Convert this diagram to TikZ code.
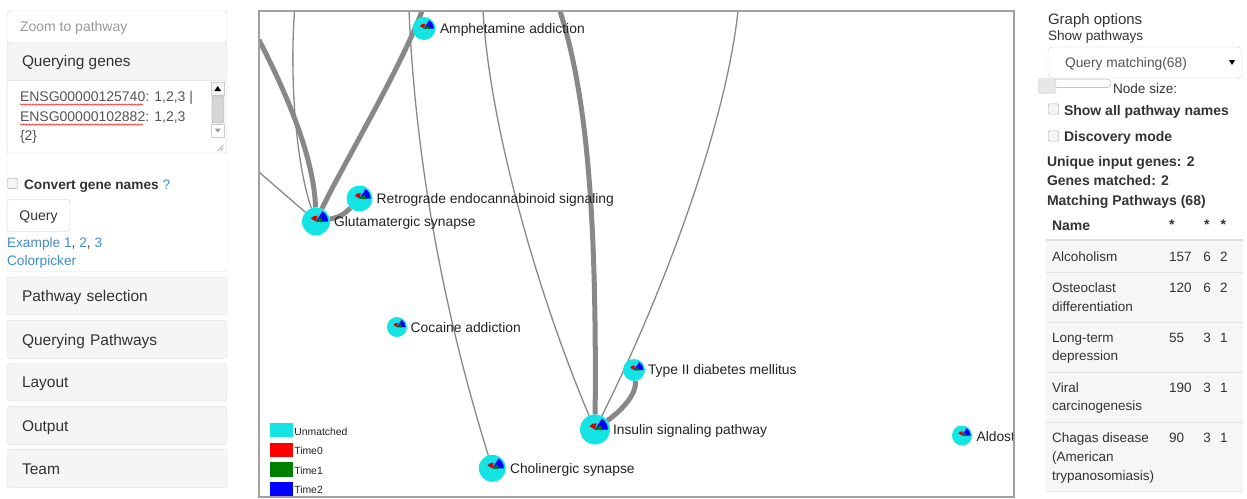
\documentclass[tikz,border=0pt]{standalone}
\usepackage{fontspec}
\setmainfont{Liberation Sans}
\usetikzlibrary{decorations.pathmorphing}

\definecolor{ink}{HTML}{333333}
\definecolor{inkdark}{HTML}{222222}
\definecolor{fieldtext}{HTML}{555555}
\definecolor{muted}{HTML}{999999}
\definecolor{boxline}{HTML}{DDDDDD}
\definecolor{fieldline}{HTML}{CCCCCC}
\definecolor{cbline}{HTML}{A8A8A8}
\definecolor{panelfill}{HTML}{F5F5F5}
\definecolor{link}{HTML}{428BCA}
\definecolor{edgegray}{HTML}{888888}
\definecolor{frame}{HTML}{A0A0A0}
\definecolor{unmatched}{RGB}{20,228,228}
\definecolor{tzero}{RGB}{255,0,0}
\definecolor{tone}{RGB}{0,128,0}
\definecolor{ttwo}{RGB}{0,0,255}
\definecolor{rowfill}{HTML}{F6F6F6}
\definecolor{rowline}{HTML}{E2E2E2}

\pgfdeclarelayer{edges}
\pgfsetlayers{edges,main}

\newcommand\fsz[1]{\fontsize{#1}{#1}\selectfont}

% pathway glyph: cyan disc with the three time-point wedges
% #1 name, #2 x, #3 y, #4 radius
\newcommand\pathway[4]{%
  \node[pie, minimum size={2*#4pt}] (#1) at (#2,#3) {};
  \fill[ttwo] (#1.center) -- ++(0:{0.86*#4pt})
     arc[start angle=0, end angle=58, radius={0.86*#4pt}] -- cycle;
  \fill[tzero!85!black] (#1.center) -- ++(75:{0.42*#4pt})
     arc[start angle=75, end angle=150, radius={0.42*#4pt}] -- cycle;
  \fill[tone] (#1.center) -- ++(-8:{0.46*#4pt})
     arc[start angle=-8, end angle=38, radius={0.46*#4pt}] -- cycle;
}

\begin{document}
\begin{tikzpicture}[x=1pt, y=-1pt,
  every node/.style={inner sep=0pt, outer sep=0pt, text=ink},
  lbl/.style={anchor=base west, font=\fsz{13.5}},
  lblb/.style={anchor=base west, font=\fsz{14}\bfseries},
  glbl/.style={anchor=base west, font=\fsz{13.85}, text=inkdark},
  leglbl/.style={anchor=base west, font=\fsz{10.4}, text=inkdark},
  sidebtn/.style={draw=boxline, fill=panelfill, rounded corners=3pt,
    minimum width=220pt, minimum height=38pt, text width=190pt,
    inner xsep=15pt, align=left, font=\fsz{15.5},
    text height=11.4pt, text depth=0pt},
  field/.style={draw=fieldline, fill=white, rounded corners=3pt},
  checkbox/.style={draw=cbline, fill=panelfill, rounded corners=1.5pt,
    minimum size=10.5pt},
  pie/.style={circle, fill=unmatched, draw=none},
  thinedge/.style={draw=edgegray, line width=1.3pt},
  thickedge/.style={draw=edgegray, line width=5pt},
  legsw/.style={minimum width=23.3pt, minimum height=14.5pt},
  spell/.style={draw=tzero, line width=0.5pt, decorate,
    decoration={snake, amplitude=0.7pt, segment length=3pt}}
]
\useasboundingbox (0,0) rectangle (1247,498);

% ---------------- left column ----------------
\node[field, minimum width=220pt, minimum height=32pt] (zoombox) at (117,27) {};
\node[lbl, font=\fsz{14}, text=muted] (zoomph) at (20,31) {Zoom to pathway};

% "Querying genes" panel
\fill[panelfill, rounded corners=3pt] (7,43.5) rectangle (227,82);
\node[lbl, font=\fsz{15.4}] (qghead) at (22,66.7) {Querying genes};
\draw[fieldline, fill=white, rounded corners=2pt] (7,80.5) rectangle (226,153);
\begin{scope}
  \clip (8,81.3) rectangle (210,152);
  \node[lbl, font=\fsz{14}, text=fieldtext] (gl1) at (20,101.7) {ENSG00000125740: 1,2,3 |};
  \node[lbl, font=\fsz{14}, text=fieldtext] (gl2) at (20,121.7) {ENSG00000102882: 1,2,3};
  \node[lbl, font=\fsz{14}, text=fieldtext] (gl3) at (20,140.7) {\{2\}};
\end{scope}
\draw[spell] (20,104.5) -- (143,104.5);
\draw[spell] (20,124.5) -- (143,124.5);
% scrollbar and resize grip
\fill[panelfill] (211,82) rectangle (224.5,137);
\draw[fieldline, fill=panelfill] (211,82) rectangle (224.5,95);
\fill[black] (217.7,86) -- (214.4,91) -- (221,91) -- cycle;
\draw[cbline, fill=fieldline!80, rounded corners=1.5pt] (212,96) rectangle (223.5,123);
\draw[fieldline, fill=white] (211,124) rectangle (224.5,137);
\fill[muted] (214.7,128.5) -- (220.7,128.5) -- (217.7,132.5) -- cycle;
\draw[muted, line width=0.6pt] (217.5,151) -- (223.5,145) (220.5,151) -- (223.5,148);

\node[checkbox] (cbconv) at (12.5,183.3) {};
\node[lblb, font=\fsz{13.7}\bfseries] (convlbl) at (24,189)
  {Convert gene names {\mdseries\color{link}?}};
\node[field, minimum width=63pt, minimum height=32pt, font=\fsz{14},
  text height=10pt, text depth=0pt] (querybtn) at (38.5,215.5) {Query};
\node[lbl, font=\fsz{13.7}] (examples) at (7,247)
  {\textcolor{link}{Example 1}, \textcolor{link}{2}, \textcolor{link}{3}};
\node[lbl, font=\fsz{13.7}, text=link] (colorpick) at (7,265.7) {Colorpicker};
\draw[boxline, rounded corners=3pt] (7,43.5) rectangle (227,271.5);

\node[sidebtn] (pwsel) at (117,296) {Pathway selection};
\node[sidebtn] (pwquery) at (117,339.4) {Querying Pathways};
\node[sidebtn] (layout) at (117,382) {Layout};
\node[sidebtn] (output) at (117,425.4) {Output};
\node[sidebtn] (team) at (117,468.4) {Team};

% ---------------- network view ----------------
\pathway{amph}{424}{28.5}{11.5}
\pathway{retro}{359.5}{198.5}{13}
\pathway{glut}{316}{221.5}{14}
\pathway{coca}{397}{327}{10}
\pathway{tdm}{634}{370}{11}
\pathway{insul}{595}{429.5}{15}
\pathway{aldo}{962}{435.5}{10}
\pathway{choli}{492.3}{468.3}{13.5}

\begin{scope}
  \clip (259,11) rectangle (1013.5,497);
  \node[glbl] (amph-l) at (440,33.3) {Amphetamine addiction};
  \node[glbl] (retro-l) at (376.7,203.3) {Retrograde endocannabinoid signaling};
  \node[glbl] (glut-l) at (334,226) {Glutamatergic synapse};
  \node[glbl] (coca-l) at (410.7,332.3) {Cocaine addiction};
  \node[glbl] (tdm-l) at (648,374) {Type II diabetes mellitus};
  \node[glbl] (insul-l) at (613,434.3) {Insulin signaling pathway};
  \node[glbl] (aldo-l) at (976.5,441) {Aldosterone};
  \node[glbl] (choli-l) at (510,473.3) {Cholinergic synapse};
\end{scope}

% edges leaving the visible area end at these border points
\coordinate (lftA) at (259,40);
\coordinate (lftB) at (259,172);
\coordinate (topA) at (294.5,11);
\coordinate (topB) at (422,11);
\coordinate (topC) at (409,11);
\coordinate (topD) at (483,11);
\coordinate (topE) at (560,11);
\coordinate (topF) at (738,11);

\begin{pgfonlayer}{edges}
  \clip (259,11) rectangle (1014,497);
  \draw[thickedge] (lftA) .. controls (290,100) and (314,160) .. (glut);
  \draw[thickedge] (glut) .. controls (340,170) and (400,70) .. (topB);
  \draw[thinedge] (topA) .. controls (289,90) and (298,170) .. (glut);
  \draw[thinedge] (lftB) -- (glut);
  \draw[thickedge] (glut) to[bend right=18] (retro);
  \draw[thinedge] (topC) .. controls (415,150) and (440,300) .. (choli);
  \draw[thinedge] (topD) .. controls (490,130) and (540,300) .. (insul);
  \draw[thickedge] (topE) .. controls (585,90) and (597,200) .. (insul);
  \draw[thinedge] (topF) .. controls (725,130) and (660,300) .. (insul);
  \draw[thickedge] (insul) .. controls (625,408) and (637,392) .. (tdm);
\end{pgfonlayer}

% legend
\node[legsw, fill=unmatched] (lg-u) at (281.7,430) {};
\node[legsw, fill=tzero] (lg-0) at (281.7,450) {};
\node[legsw, fill=tone] (lg-1) at (281.7,469.7) {};
\node[legsw, fill=ttwo, minimum height=15pt] (lg-2) at (281.7,489.2) {};
\node[leglbl] (lg-u-t) at (294.3,435) {Unmatched};
\node[leglbl] (lg-0-t) at (294.3,454.3) {Time0};
\node[leglbl] (lg-1-t) at (294.3,474) {Time1};
\node[leglbl] (lg-2-t) at (294.3,493.3) {Time2};

\draw[frame, line width=1.6pt] (259,11) rectangle (1014,497);

% ---------------- right column ----------------
\node[lbl, font=\fsz{15}] (gopt) at (1048,24) {Graph options};
\node[lbl, font=\fsz{13.6}] (showpw) at (1048,40) {Show pathways};
\node[field, rounded corners=4pt, minimum width=194pt, minimum height=31pt] (pwselect) at (1145,62.5) {};
\node[lbl, font=\fsz{13.8}, text=fieldtext] (pwselect-t) at (1065,67.3) {Query matching(68)};
\fill[black] (1229,60) -- (1235,60) -- (1232,65) -- cycle;
\node[draw=cbline, fill=white, rounded corners=4pt, minimum width=60pt, minimum height=8.5pt] (sizetrack) at (1081,83.3) {};
\node[draw=fieldline, fill=boxline!70, rounded corners=3pt, minimum width=18pt, minimum height=15pt] (sizeknob) at (1047,86) {};
\node[lbl, font=\fsz{13.6}] (sizelbl) at (1113,93.3) {Node size:};
\node[checkbox] (cbnames) at (1053.5,109) {};
\node[lblb] (nameslbl) at (1064,115) {Show all pathway names};
\node[checkbox] (cbdisc) at (1053.5,136) {};
\node[lblb] (disclbl) at (1064,141.7) {Discovery mode};
\node[lblb] (uniq) at (1047,166.7) {Unique input genes: 2};
\node[lblb] (matched) at (1047,185.7) {Genes matched: 2};
\node[lblb] (matchpw) at (1047,205) {Matching Pathways (68)};

% results table
\node[lblb] (th-name) at (1052,230) {Name};
\node[lblb] (th-a) at (1169,229) {*};
\node[lblb] (th-b) at (1204,229) {*};
\node[lblb] (th-c) at (1220.5,229) {*};
\fill[rowfill] (1046,241) rectangle (1243,491);
\draw[boxline, line width=2pt] (1046,240) -- (1243,240);
\foreach \yy in {272,322,372,422,491}
  \draw[rowline] (1046,\yy) -- (1243,\yy);

\node[lbl] (r1) at (1052,261.7) {Alcoholism};
\node[lbl] (r1a) at (1169,261.7) {157};
\node[lbl] (r1b) at (1203.3,261.7) {6};
\node[lbl] (r1c) at (1220,261.7) {2};

\node[lbl] (r2) at (1052,292.7) {Osteoclast};
\node[lbl] (r2x) at (1052,311.7) {differentiation};
\node[lbl] (r2a) at (1169,292.7) {120};
\node[lbl] (r2b) at (1203.3,292.7) {6};
\node[lbl] (r2c) at (1220,292.7) {2};

\node[lbl] (r3) at (1052,342.7) {Long-term};
\node[lbl] (r3x) at (1052,360.7) {depression};
\node[lbl] (r3a) at (1169,342.7) {55};
\node[lbl] (r3b) at (1203.3,342.7) {3};
\node[lbl] (r3c) at (1220,342.7) {1};

\node[lbl] (r4) at (1052,392.7) {Viral};
\node[lbl] (r4x) at (1052,410.7) {carcinogenesis};
\node[lbl] (r4a) at (1169,392.7) {190};
\node[lbl] (r4b) at (1203.3,392.7) {3};
\node[lbl] (r4c) at (1220,392.7) {1};

\node[lbl] (r5) at (1052,442.7) {Chagas disease};
\node[lbl] (r5x) at (1052,461.7) {(American};
\node[lbl] (r5y) at (1052,480.7) {trypanosomiasis)};
\node[lbl] (r5a) at (1169,442.7) {90};
\node[lbl] (r5b) at (1203.3,442.7) {3};
\node[lbl] (r5c) at (1220,442.7) {1};
\end{tikzpicture}
\end{document}
